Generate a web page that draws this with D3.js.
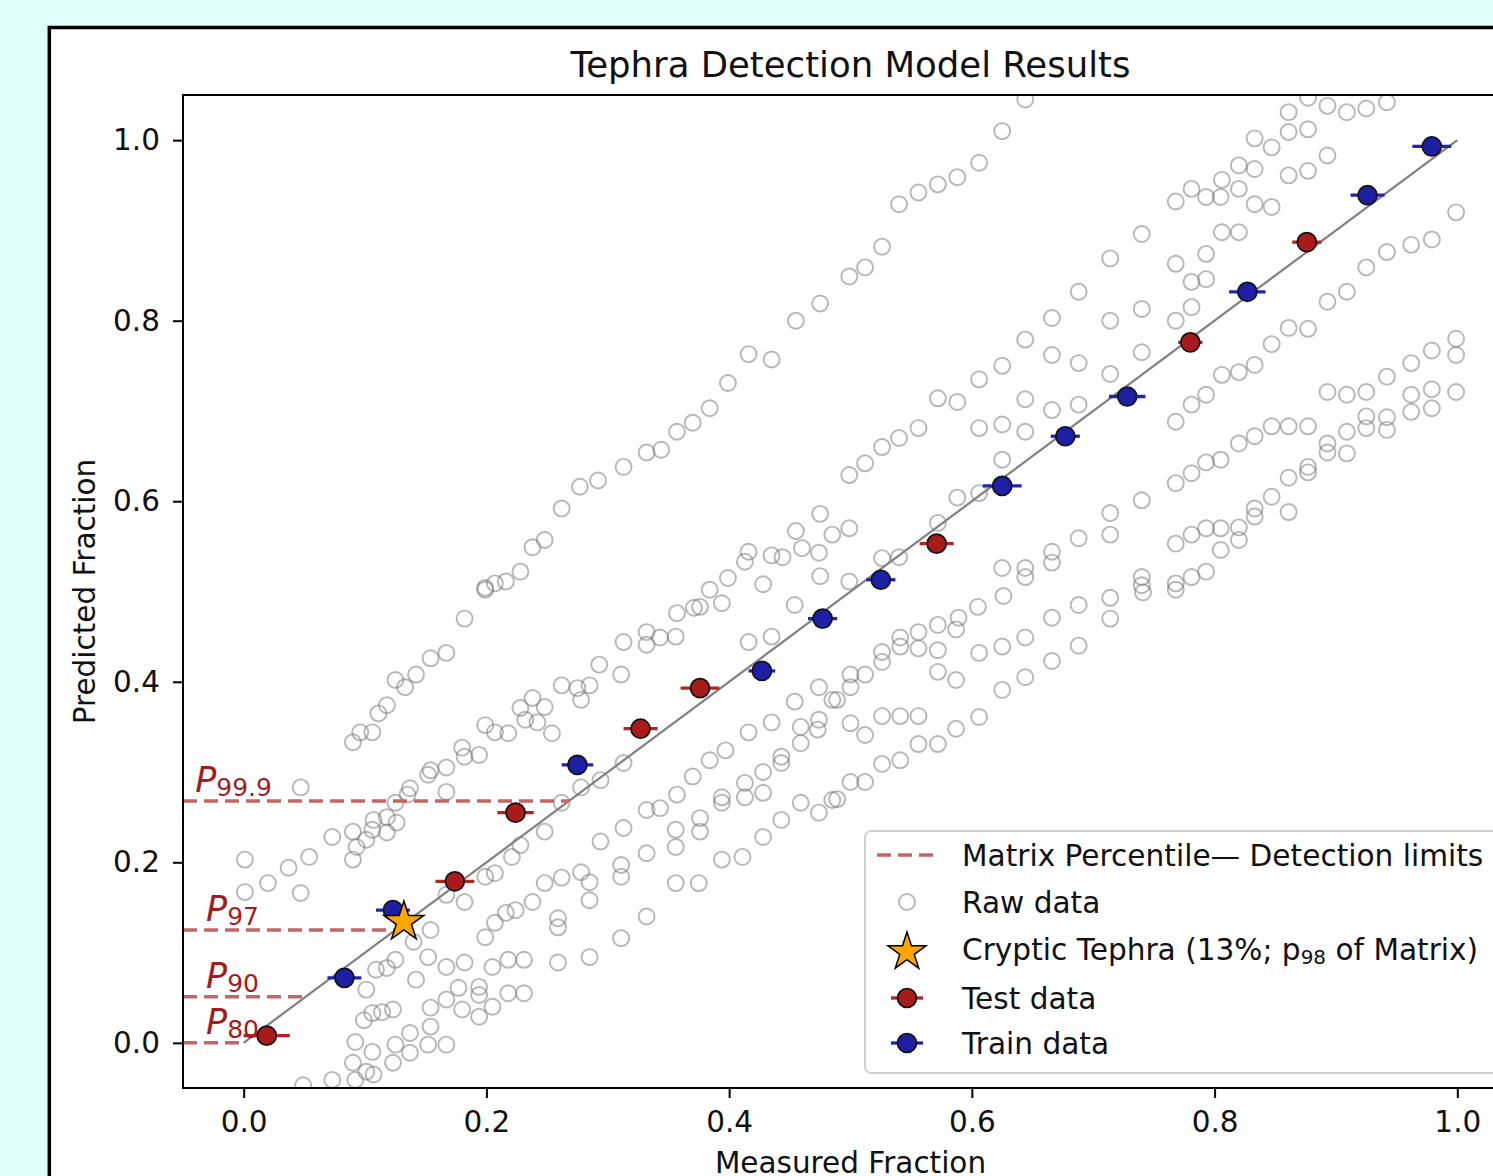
<!DOCTYPE html>
<html>
<head>
<meta charset="utf-8">
<script src="https://cdn.jsdelivr.net/npm/d3@7"></script>
<style>
  html, body { margin: 0; padding: 0; background: #e0fffa; }
  svg { display: block; font-family: "DejaVu Sans", sans-serif; }
</style>
</head>
<body>
<svg id="chart"></svg>
<script>
// values (data units)
const testX = [0.019, 0.174, 0.224, 0.327, 0.376, 0.571, 0.780, 0.876];
const testY = [0.008, 0.179, 0.255, 0.348, 0.393, 0.553, 0.776, 0.887];
const testErr = [0.019, 0.016, 0.015, 0.014, 0.016, 0.014, 0.010, 0.012];

const trainX = [0.083, 0.123, 0.275, 0.427, 0.477, 0.525, 0.625, 0.677, 0.728, 0.827, 0.926, 0.979];
const trainY = [0.072, 0.147, 0.308, 0.412, 0.470, 0.513, 0.617, 0.672, 0.716, 0.832, 0.939, 0.993];
const trainErr = [0.014, 0.014, 0.013, 0.011, 0.012, 0.012, 0.016, 0.012, 0.015, 0.015, 0.014, 0.016];

const crypticPoint = [0.132, 0.134];

const pctNames = ["99.9", "97", "90", "80"];
const pctValues = [0.268, 0.125, 0.051, 0.0];
const pctLabelX = [-0.040, -0.031, -0.031, -0.031];

const ticks = [0.0, 0.2, 0.4, 0.6, 0.8, 1.0];

const rawPoints = [
  // upper band
  [0.475,0.819],[0.455,0.800],[0.416,0.763],[0.435,0.757],[0.399,0.731],[0.384,0.703],[0.370,0.687],
  [0.357,0.677],[0.344,0.657],[0.332,0.654],[0.313,0.638],[0.292,0.623],[0.277,0.616],[0.262,0.592],
  [0.248,0.557],[0.238,0.549],[0.228,0.522],[0.216,0.511],[0.207,0.509],[0.199,0.504],
  [0.182,0.470],[0.167,0.432],[0.154,0.426],[0.142,0.408],[0.133,0.394],[0.125,0.402],[0.118,0.374],
  [0.111,0.365],[0.106,0.344],[0.096,0.344],[0.090,0.333],
  [0.644,1.045],[0.625,1.010],[0.606,0.975],[0.588,0.959],[0.572,0.951],[0.556,0.942],[0.540,0.929],
  [0.526,0.882],[0.512,0.859],[0.499,0.849],
  // second band
  [0.475,0.586],[0.455,0.567],[0.485,0.563],[0.416,0.544],[0.413,0.533],[0.435,0.540],[0.444,0.538],
  [0.460,0.548],[0.474,0.543],[0.399,0.515],[0.384,0.502],[0.428,0.508],[0.475,0.517],
  [0.861,1.031],[0.877,1.047],[0.893,1.038],[0.909,1.031],[0.925,1.035],[0.942,1.042],
  [0.833,1.002],[0.847,0.992],[0.861,1.009],[0.877,1.012],[0.820,0.972],[0.833,0.968],[0.806,0.956],
  [0.820,0.946],[0.781,0.946],[0.793,0.937],[0.805,0.937],[0.768,0.932],[0.833,0.929],[0.847,0.926],
  [0.861,0.961],[0.877,0.966],[0.893,0.983],[0.740,0.896],[0.806,0.898],[0.820,0.898],[0.793,0.874],
  [0.768,0.863],[0.781,0.843],[0.793,0.846],[0.714,0.869],[0.688,0.832],[0.666,0.803],[0.644,0.779],
  [0.625,0.750],[0.606,0.735],[0.572,0.714],[0.588,0.710],[0.556,0.681],[0.540,0.670],[0.526,0.660],
  [0.512,0.642],[0.499,0.629],[0.740,0.813],[0.781,0.815],[0.768,0.800],[0.714,0.800],[0.740,0.765],
  [0.714,0.741],[0.688,0.753],[0.666,0.762],[0.644,0.713],[0.666,0.701],[0.688,0.707],[0.625,0.685],
  [0.606,0.681],[0.644,0.677],[0.625,0.646],[0.588,0.604],[0.606,0.609],[0.572,0.576],[0.499,0.570],
  [0.526,0.537],[0.540,0.538],[0.499,0.511],
  // lower bands, right part
  [0.999,0.920],[0.979,0.890],[0.962,0.884],[0.942,0.876],[0.925,0.859],[0.909,0.832],[0.893,0.821],
  [0.877,0.791],[0.861,0.792],[0.847,0.774],[0.833,0.751],[0.820,0.743],[0.806,0.740],[0.793,0.718],
  [0.781,0.707],[0.768,0.688],
  [0.999,0.780],[0.999,0.762],[0.979,0.767],[0.962,0.753],[0.942,0.738],[0.925,0.721],[0.909,0.718],
  [0.893,0.721],[0.999,0.721],[0.979,0.724],[0.962,0.718],[0.979,0.703],[0.962,0.699],[0.942,0.693],
  [0.942,0.679],[0.925,0.694],[0.925,0.681],[0.909,0.677],[0.909,0.653],[0.893,0.664],[0.893,0.654],
  [0.877,0.683],[0.861,0.683],[0.847,0.683],[0.833,0.672],[0.820,0.664],[0.805,0.646],[0.793,0.643],
  [0.781,0.631],[0.768,0.620],[0.877,0.638],[0.877,0.632],[0.861,0.626],[0.847,0.605],[0.833,0.592],
  [0.833,0.583],[0.820,0.571],[0.820,0.557],[0.805,0.570],[0.805,0.546],[0.793,0.570],[0.781,0.563],
  [0.768,0.553],[0.861,0.588],[0.793,0.522],[0.781,0.516],[0.768,0.509],[0.740,0.601],[0.714,0.587],
  [0.714,0.563],[0.688,0.559],[0.666,0.544],[0.666,0.532],[0.644,0.526],[0.644,0.516],[0.625,0.526],
  [0.740,0.516],[0.740,0.507],
  // mid bands, left part
  [0.199,0.502],[0.357,0.476],[0.371,0.482],[0.376,0.483],[0.394,0.487],[0.454,0.485],[0.313,0.444],
  [0.332,0.455],[0.332,0.441],[0.343,0.449],[0.356,0.450],[0.416,0.444],[0.435,0.450],[0.293,0.419],
  [0.311,0.408],[0.262,0.396],[0.275,0.393],[0.285,0.396],[0.278,0.380],[0.238,0.382],[0.248,0.372],
  [0.228,0.371],[0.232,0.358],[0.242,0.355],[0.199,0.352],[0.207,0.344],[0.218,0.343],[0.254,0.343],
  [0.180,0.327],[0.194,0.319],[0.182,0.317],[0.154,0.302],[0.167,0.305],[0.152,0.297],[0.137,0.282],
  [0.135,0.275],[0.167,0.278],[0.125,0.266],[0.107,0.247],[0.118,0.250],[0.126,0.244],[0.106,0.236],
  [0.118,0.233],[0.090,0.234],[0.073,0.228],[0.101,0.225],[0.093,0.217],[0.090,0.203],[0.054,0.206],
  [0.037,0.194],[0.001,0.203],[0.020,0.177],[0.001,0.167],[0.047,0.283],[0.047,0.166],[0.262,0.266],
  [0.313,0.310],[0.294,0.291],[0.278,0.283],[0.248,0.234],[0.228,0.219],[0.221,0.206],[0.207,0.188],
  [0.199,0.184],[0.182,0.156],[0.167,0.164],[0.154,0.125],[0.140,0.112],
  [0.397,0.324],[0.384,0.313],[0.370,0.295],[0.357,0.275],[0.343,0.260],[0.332,0.258],[0.313,0.238],
  [0.294,0.223],[0.332,0.210],[0.311,0.197],[0.311,0.184],[0.356,0.236],[0.356,0.217],[0.376,0.249],
  [0.376,0.234],[0.394,0.272],[0.394,0.266],[0.413,0.288],[0.413,0.272],[0.428,0.300],[0.428,0.277],
  [0.443,0.317],[0.443,0.310],[0.459,0.332],[0.474,0.358],[0.459,0.350],[0.473,0.347],[0.454,0.378],
  [0.435,0.355],[0.416,0.344],[0.474,0.394],[0.485,0.380],[0.459,0.266],[0.474,0.255],[0.485,0.269],
  [0.443,0.247],[0.428,0.228],[0.411,0.206],[0.394,0.203],[0.375,0.177],[0.356,0.177],[0.332,0.140],
  [0.311,0.116],[0.285,0.095],[0.259,0.089],[0.285,0.158],[0.285,0.178],[0.278,0.189],[0.262,0.183],
  [0.248,0.177],[0.259,0.138],[0.259,0.128],[0.238,0.156],[0.224,0.147],[0.216,0.144],[0.207,0.133],
  [0.199,0.117],[0.231,0.092],[0.218,0.092],[0.205,0.084],[0.194,0.062],[0.182,0.089],[0.167,0.084],
  [0.152,0.095],[0.142,0.070],[0.125,0.092],[0.118,0.083],[0.109,0.081],[0.101,0.059],[0.177,0.061],
  [0.194,0.053],[0.218,0.055],[0.231,0.055],[0.205,0.040],[0.194,0.029],[0.180,0.037],[0.167,0.048],
  [0.154,0.039],[0.154,0.018],[0.167,-0.002],[0.152,-0.002],[0.137,0.011],[0.137,-0.011],[0.123,0.037],
  [0.114,0.034],[0.106,0.033],[0.099,0.025],[0.125,-0.002],[0.123,-0.022],[0.106,-0.010],[0.092,0.001],
  [0.101,-0.032],[0.090,-0.022],[0.092,-0.041],[0.073,-0.041],[0.049,-0.047],[0.107,-0.035],
  // mid bands, right part
  [0.626,0.495],[0.605,0.483],[0.589,0.471],[0.587,0.458],[0.572,0.463],[0.556,0.455],[0.541,0.449],
  [0.541,0.439],[0.526,0.433],[0.526,0.422],[0.512,0.408],[0.500,0.408],[0.500,0.394],[0.489,0.380],
  [0.556,0.437],[0.572,0.435],[0.572,0.411],[0.587,0.402],[0.606,0.432],[0.625,0.439],[0.644,0.449],
  [0.666,0.471],[0.688,0.485],[0.714,0.493],[0.714,0.470],[0.741,0.499],[0.768,0.502],[0.688,0.440],
  [0.666,0.423],[0.644,0.405],[0.625,0.391],[0.606,0.361],[0.587,0.348],[0.572,0.331],[0.556,0.331],
  [0.541,0.313],[0.526,0.309],[0.512,0.289],[0.500,0.289],[0.489,0.270],[0.500,0.354],[0.512,0.341],
  [0.526,0.362],[0.541,0.362],[0.556,0.362]
];

const W = 1493, H = 1176;
const margin = { left: 183, top: 95, right: 1518, bottom: 1088 };

const svg = d3.select("#chart").attr("width", W).attr("height", H);

// figure background + frame
svg.append("rect").attr("width", W).attr("height", H).attr("fill", "#e0fffa");
svg.append("rect")
  .attr("x", 49.3).attr("y", 27.5)
  .attr("width", 1700).attr("height", 1400)
  .attr("fill", "white").attr("stroke", "black").attr("stroke-width", 3.5);

const x = d3.scaleLinear().domain([-0.05, 1.05]).range([margin.left, margin.right]);
const y = d3.scaleLinear().domain([-0.05, 1.05]).range([margin.bottom, margin.top]);

svg.append("clipPath").attr("id", "plot-clip")
  .append("rect")
  .attr("x", margin.left).attr("y", margin.top)
  .attr("width", margin.right - margin.left).attr("height", margin.bottom - margin.top);

const plot = svg.append("g").attr("clip-path", "url(#plot-clip)");

// raw data
plot.selectAll("circle.raw")
  .data(rawPoints)
  .enter()
  .append("circle")
  .attr("class", "raw")
  .attr("cx", d => x(d[0]))
  .attr("cy", d => y(d[1]))
  .attr("r", 8)
  .attr("fill", "none")
  .attr("stroke", "#707070")
  .attr("stroke-opacity", 0.5)
  .attr("stroke-width", 1.9);

// 1:1 line
plot.append("line")
  .attr("x1", x(0)).attr("y1", y(0))
  .attr("x2", x(1)).attr("y2", y(1))
  .attr("stroke", "#808080")
  .attr("stroke-width", 2.2);

// percentile detection limits
plot.selectAll("line.pct")
  .data(pctValues)
  .enter()
  .append("line")
  .attr("class", "pct")
  .attr("x1", x(-0.05)).attr("x2", d => x(d))
  .attr("y1", d => y(d)).attr("y2", d => y(d))
  .attr("stroke", "#c46666")
  .attr("stroke-width", 3.5)
  .attr("stroke-dasharray", "14,7");

const pctLabels = svg.selectAll("text.pct")
  .data(pctNames)
  .enter()
  .append("text")
  .attr("class", "pct")
  .attr("x", (d, i) => x(pctLabelX[i]))
  .attr("y", (d, i) => y(pctValues[i]) - 9)
  .attr("fill", "#a31c1c")
  .style("font-size", "35px");
pctLabels.append("tspan").style("font-style", "italic").text("P");
pctLabels.append("tspan").attr("dy", 4).style("font-size", "25px").text(d => d);

// error bars + markers
function drawSeries(xs, ys, errs, fill, barColor) {
  const data = xs.map((v, i) => ({ x: v, y: ys[i], e: errs[i] }));
  plot.selectAll(null)
    .data(data)
    .enter()
    .append("line")
    .attr("x1", d => x(d.x - d.e)).attr("x2", d => x(d.x + d.e))
    .attr("y1", d => y(d.y)).attr("y2", d => y(d.y))
    .attr("stroke", barColor)
    .attr("stroke-width", 3.3);
  plot.selectAll(null)
    .data(data)
    .enter()
    .append("circle")
    .attr("cx", d => x(d.x))
    .attr("cy", d => y(d.y))
    .attr("r", 9.5)
    .attr("fill", fill)
    .attr("stroke", "#111")
    .attr("stroke-width", 1.7);
}
drawSeries(trainX, trainY, trainErr, "#1f1fa6", "#2323b0");
drawSeries(testX, testY, testErr, "#a81b1b", "#b52222");

const star = d3.symbol().type(d3.symbolStar);
plot.append("path")
  .attr("d", star.size(21 * 21 / 0.8908130915292852)())
  .attr("transform", `translate(${x(crypticPoint[0])},${y(crypticPoint[1])})`)
  .attr("fill", "#ffa500")
  .attr("stroke", "black")
  .attr("stroke-width", 1.5);

// axes
const xAxis = svg.append("g")
  .attr("transform", `translate(0,${margin.bottom})`)
  .call(d3.axisBottom(x).tickValues(ticks).tickFormat(d3.format(".1f")).tickSize(10).tickPadding(13));
const yAxis = svg.append("g")
  .attr("transform", `translate(${margin.left},0)`)
  .call(d3.axisLeft(y).tickValues(ticks).tickFormat(d3.format(".1f")).tickSize(10).tickPadding(13));
[xAxis, yAxis].forEach(g => {
  g.select(".domain").remove();
  g.selectAll(".tick line").attr("stroke", "black").attr("stroke-width", 2);
  g.selectAll(".tick text")
    .attr("fill", "#111")
    .style("font-family", "DejaVu Sans")
    .style("font-size", "29.5px");
});

svg.append("rect")
  .attr("x", margin.left).attr("y", margin.top)
  .attr("width", margin.right - margin.left).attr("height", margin.bottom - margin.top)
  .attr("fill", "none").attr("stroke", "black").attr("stroke-width", 2);

// titles
svg.append("text")
  .attr("x", (margin.left + margin.right) / 2).attr("y", 77)
  .attr("text-anchor", "middle")
  .attr("fill", "#111")
  .style("font-size", "35.5px")
  .text("Tephra Detection Model Results");

svg.append("text")
  .attr("x", (margin.left + margin.right) / 2).attr("y", 1173)
  .attr("text-anchor", "middle")
  .attr("fill", "#111")
  .style("font-size", "29.5px")
  .text("Measured Fraction");

svg.append("text")
  .attr("transform", `translate(95,${(margin.top + margin.bottom) / 2}) rotate(-90)`)
  .attr("text-anchor", "middle")
  .attr("fill", "#111")
  .style("font-size", "29.5px")
  .text("Predicted Fraction");

// legend
const legend = svg.append("g");
legend.append("rect")
  .attr("x", 865).attr("y", 831)
  .attr("width", 700).attr("height", 242)
  .attr("rx", 6)
  .attr("fill", "white").attr("fill-opacity", 0.85)
  .attr("stroke", "#d0d0d0").attr("stroke-width", 2);

const legendRows = [855, 902, 951, 998, 1043];
const legendLabels = ["Matrix Percentile\u2014 Detection limits", "Raw data", null, "Test data", "Train data"];
const hx = 907, tx = 962;

legend.append("line")
  .attr("x1", hx - 30).attr("x2", hx + 30)
  .attr("y1", legendRows[0]).attr("y2", legendRows[0])
  .attr("stroke", "#c46666").attr("stroke-width", 3.5).attr("stroke-dasharray", "14,7");
legend.append("circle")
  .attr("cx", hx).attr("cy", legendRows[1]).attr("r", 8)
  .attr("fill", "none").attr("stroke", "#707070").attr("stroke-opacity", 0.5).attr("stroke-width", 1.9);
legend.append("path")
  .attr("d", star.size(20 * 20 / 0.8908130915292852)())
  .attr("transform", `translate(${hx},${legendRows[2] + 1})`)
  .attr("fill", "#ffa500").attr("stroke", "black").attr("stroke-width", 1.5);
[[legendRows[3], "#a81b1b", "#b52222"], [legendRows[4], "#1f1fa6", "#2323b0"]].forEach(([ry, f, c]) => {
  legend.append("line")
    .attr("x1", hx - 16).attr("x2", hx + 16)
    .attr("y1", ry).attr("y2", ry)
    .attr("stroke", c).attr("stroke-width", 3.3);
  legend.append("circle")
    .attr("cx", hx).attr("cy", ry).attr("r", 9.5)
    .attr("fill", f).attr("stroke", "#111").attr("stroke-width", 1.7);
});

legendLabels.forEach((t, i) => {
  if (t === null) return;
  legend.append("text")
    .attr("x", tx).attr("y", legendRows[i] + 11)
    .attr("fill", "#111")
    .style("font-size", "29.6px")
    .text(t);
});
const ct = legend.append("text")
  .attr("x", tx).attr("y", legendRows[2] + 9)
  .attr("fill", "#111")
  .style("font-size", "29.6px");
ct.append("tspan").text("Cryptic Tephra (13%; p");
ct.append("tspan").attr("dy", 4).style("font-size", "20px").text("98");
ct.append("tspan").attr("dy", -4).text(" of Matrix)");
</script>
</body>
</html>
